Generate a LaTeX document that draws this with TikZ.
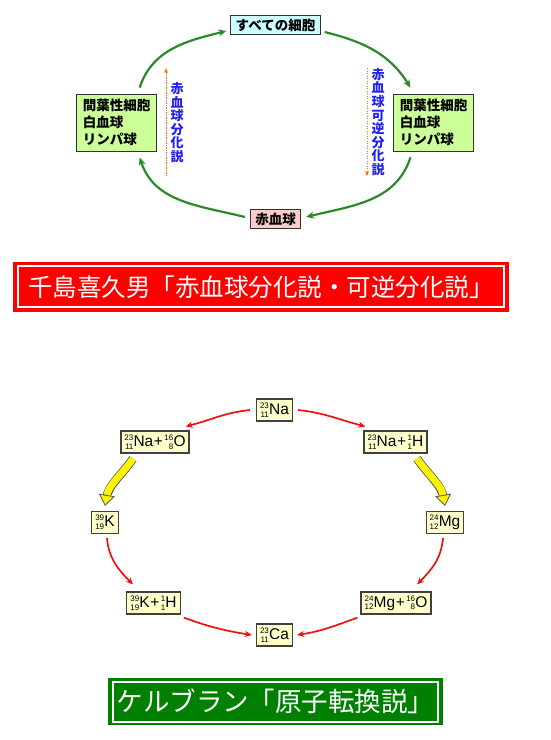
\documentclass[tikz,border=0pt]{standalone}
\usepackage{fontspec}
\setmainfont{Liberation Sans}
\newfontfamily\jp{Noto Sans CJK JP}
\usepackage{tikz}
\usetikzlibrary{arrows.meta}
\definecolor{cG}{HTML}{2A8A2A}
\definecolor{cR}{HTML}{F01010}
\definecolor{cO}{HTML}{FF6A10}
\definecolor{cB}{HTML}{2020F0}
\definecolor{cYo}{HTML}{555555}
\definecolor{cAll}{HTML}{CCFFFF}
\definecolor{cMes}{HTML}{CCFF99}
\definecolor{cRbc}{HTML}{FFCCCC}
\definecolor{cIso}{HTML}{FFFFCC}
\definecolor{cT1}{HTML}{FF0000}
\definecolor{cT2}{HTML}{008000}
\tikzset{
  cellbox/.style={draw=black!80, line width=0.8pt, font=\jp\bfseries\fontsize{13.5}{17}\selectfont, inner xsep=5pt, inner ysep=3pt},
  isobox/.style={draw=black!75, line width=1.2pt, fill=cIso, inner xsep=3.5pt, inner ysep=2pt, minimum height=22pt, font=\fontsize{15.5}{15.5}\selectfont},
  garr/.style={cG, line width=2.2pt, -{Stealth[length=8pt,width=7pt]}},
  rarr/.style={cR, line width=1.7pt, -{Stealth[length=7pt,width=6pt]}},
  oarr/.style={cO, line width=1pt, dash pattern=on 1.2pt off 1.3pt, -{Stealth[length=5pt,width=4pt]}},
  yarr/.style={yellow, line width=7pt, -{Triangle[length=11pt,width=16pt,fill=yellow,color=cYo,line width=0.8pt]},
    preaction={draw=cYo, line width=8.6pt, -, shorten >=9pt}},
  vtext/.style={cB, font=\jp\bfseries\fontsize{13}{13.6}\selectfont, align=center, inner sep=0pt},
  titlebox/.style={text=white, font=\jp\fontsize{24.5}{26}\selectfont, inner sep=0pt},
}
\newcommand{\iso}[3]{\raisebox{-2.8pt}{\fontsize{8}{8}\selectfont\shortstack[r]{#1\\#2}}\kern0.2pt#3}
\newcommand{\plus}{\kern0.6pt+\kern1.4pt}

\begin{document}
\begin{tikzpicture}[x=1pt,y=1pt]
\useasboundingbox (0,0) rectangle (550,-740);
% --- Chishima
\node[cellbox, fill=cAll] (all) at (275.5,-25) {すべての細胞};
\node[cellbox, fill=cMes, align=left, minimum width=80pt, minimum height=57pt] (mesL) at (116.7,-122.5) {間葉性細胞\\白血球\\リンパ球};
\node[cellbox, fill=cMes, align=left, minimum width=80pt, minimum height=57pt] (mesR) at (433.5,-122.5) {間葉性細胞\\白血球\\リンパ球};
\node[cellbox, fill=cRbc] (rbc) at (275.5,-219) {赤血球};
\draw[garr] ([xshift=23pt,yshift=6pt]mesL.north) to[out=72,in=194] ([xshift=-4pt,yshift=-6pt]all.west);
\draw[garr] ([xshift=4pt,yshift=-7pt]all.east) to[out=-14,in=122] ([xshift=-23pt,yshift=6pt]mesR.north);
\draw[garr] ([xshift=-23pt,yshift=-6pt]mesR.south) to[out=-108,in=14] ([xshift=5pt,yshift=2pt]rbc.east);
\draw[garr] ([xshift=-5pt,yshift=2pt]rbc.west) to[out=166,in=-72] ([xshift=23pt,yshift=-6pt]mesL.south);
\node[vtext] (vL) at (177,-122.5) {赤\\血\\球\\分\\化\\説};
\node[vtext] (vR) at (378,-122) {赤\\血\\球\\可\\逆\\分\\化\\説};
\coordinate (oL1) at (166,-176); \coordinate (oL2) at (166,-68);
\coordinate (oR1) at (367,-68);  \coordinate (oR2) at (367,-176);
\draw[oarr] (oL1) -- (oL2);
\draw[oarr] (oR1) -- (oR2);
\node[titlebox, fill=cT1, minimum width=496pt, minimum height=50pt] (tR) at (261,-287) {千島喜久男「赤血球分化説・可逆分化説」};
\draw[white, line width=1.5pt] ([shift={(5pt,-4pt)}]tR.north west) rectangle ([shift={(-5pt,5pt)}]tR.south east);
% --- Kervran
\foreach \n/\x/\y/\t in {na/274.5/410/{\iso{23}{11}{Na}}, nao/155/442/{\iso{23}{11}{Na}\plus\iso{16}{8}{O}},
  nah/395.5/442/{\iso{23}{11}{Na}\plus\iso{1}{1}{H}}, k/105/522.5/{\iso{39}{19}{K}}, mg/445/522.5/{\iso{24}{12}{Mg}},
  kh/153.5/603/{\iso{39}{19}{K}\plus\iso{1}{1}{H}}, mgo/396/603/{\iso{24}{12}{Mg}\plus\iso{16}{8}{O}}, ca/274.5/635/{\iso{23}{11}{Ca}}}
  \node[isobox] (\n) at (\x,-\y) {\t};
\draw[rarr] ([xshift=-6pt]na.west) to[out=186,in=14] ([xshift=-4pt,yshift=4pt]nao.north east);
\draw[rarr] ([xshift=5pt]na.east) to[out=-6,in=166] ([xshift=2pt,yshift=4pt]nah.north west);
\draw[yarr] ([xshift=-22pt,yshift=-5pt]nao.south) to[out=235,in=80] ([yshift=5pt]k.north);
\draw[yarr] ([xshift=21.5pt,yshift=-5pt]nah.south) to[out=-55,in=100] ([yshift=5pt]mg.north);
\draw[rarr] ([xshift=2pt,yshift=-4pt]k.south) to[out=-85,in=135] ([xshift=-20.5pt,yshift=7pt]kh.north);
\draw[rarr] ([xshift=-2pt,yshift=-4pt]mg.south) to[out=-95,in=45] ([xshift=21pt,yshift=7pt]mgo.north);
\draw[rarr] ([xshift=3pt,yshift=-3pt]kh.south east) to[out=-20,in=171] ([xshift=-4pt]ca.west);
\draw[rarr] ([xshift=-3pt,yshift=-3pt]mgo.south west) to[out=200,in=9] ([xshift=4pt]ca.east);
\node[titlebox, fill=cT2, minimum width=335pt, minimum height=47pt, font=\jp\fontsize{26.5}{28}\selectfont] (tG) at (275.5,-701.5) {ケルブラン「原子転換説」};
\draw[white, line width=1.5pt] ([shift={(5pt,-4pt)}]tG.north west) rectangle ([shift={(-5pt,3pt)}]tG.south east);
\end{tikzpicture}
\end{document}
